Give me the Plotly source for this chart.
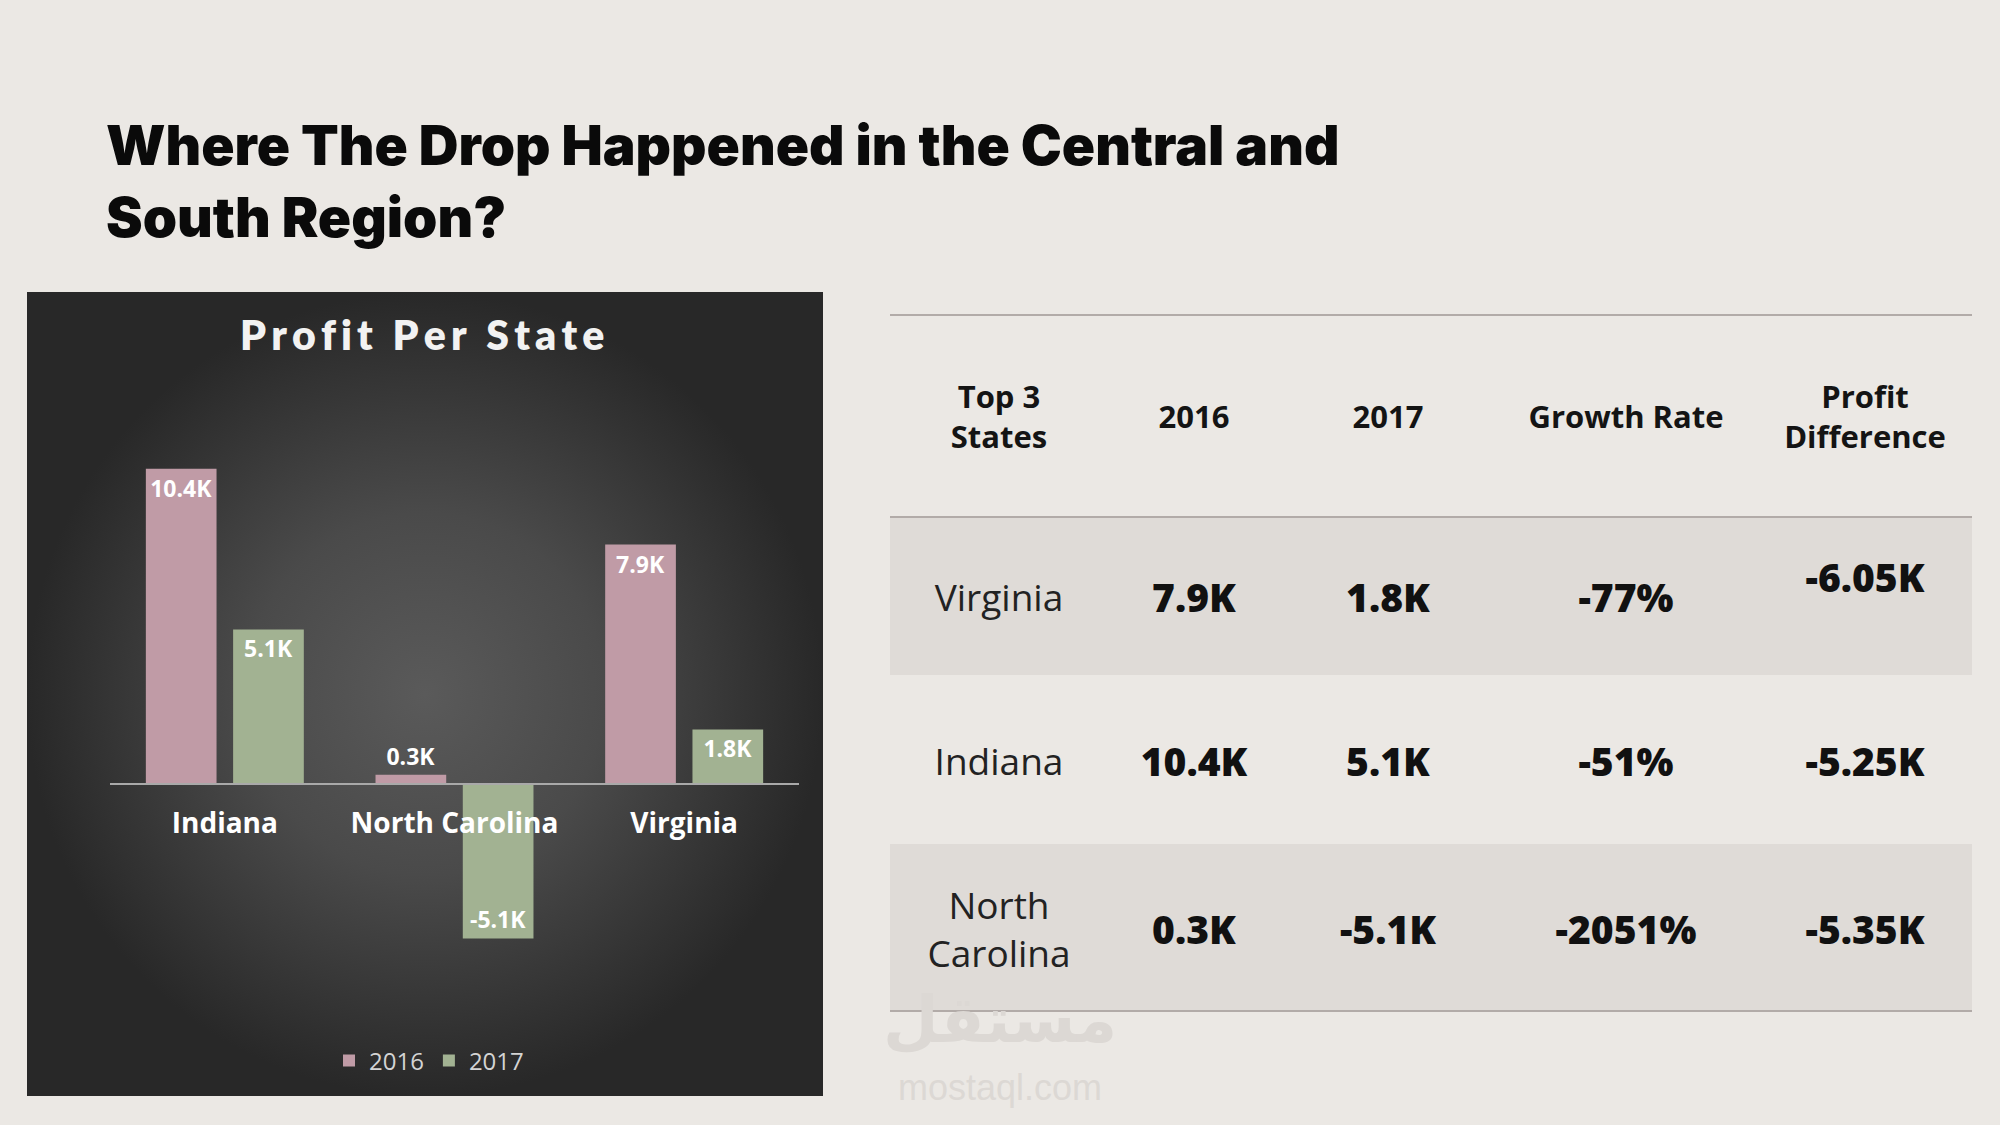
import plotly.graph_objects as go

# chart data (profit in thousands)
states = ["Indiana", "North Carolina", "Virginia"]
profit_2016 = [10.4, 0.3, 7.9]
profit_2017 = [5.1, -5.1, 1.8]

# table data
table_headers = ["Top 3<br>States", "2016", "2017", "Growth Rate", "Profit<br>Difference"]
table_states = ["Virginia", "Indiana", "North<br>Carolina"]
table_2016 = [7.9, 10.4, 0.3]
table_2017 = [1.8, 5.1, -5.1]
table_growth = [-77, -51, -2051]
table_diff = [-6.05, -5.25, -5.35]

PAGE = "#ebe8e4"
SHADE = "#dfdbd7"
PINK = "#c09ba6"
GREEN = "#a2b292"
W, H = 2000, 1125

def py(px):
    # pixel from top -> paper y
    return 1 - px / H

fig = go.Figure()

# dark panel behind the chart (radial gradient)
fig.add_trace(go.Scatter(
    x=[0, 1, 1, 0, 0], y=[0, 0, 1, 1, 0],
    mode="lines", line_width=0, fill="toself",
    fillgradient=dict(type="radial", colorscale=[[0, "#5a5a5a"], [0.45, "#4a4a4a"], [1, "#282828"]]),
    hoverinfo="skip", showlegend=False, xaxis="x", yaxis="y"))

# bars
label_font = dict(family="Open Sans", size=23, color="white", weight=700)
fig.add_trace(go.Bar(
    x=states, y=profit_2016, name="2016", marker_color=PINK, marker_line_width=0,
    texttemplate="%{y:.1f}K", textposition=["inside", "outside", "inside"],
    insidetextanchor="end", constraintext="none", cliponaxis=False,
    textfont=label_font, xaxis="x2", yaxis="y2"))
fig.add_trace(go.Bar(
    x=states, y=profit_2017, name="2017", marker_color=GREEN, marker_line_width=0,
    texttemplate="%{y:.1f}K", textposition="inside",
    insidetextanchor="end", constraintext="none", cliponaxis=False,
    textfont=label_font, xaxis="x2", yaxis="y2"))

# table text
col_x = [999, 1194, 1388, 1626, 1865]
header_y = 420
row_y = [602, 766, 934]

fig.add_trace(go.Scatter(
    x=col_x, y=[header_y] * len(col_x), text=table_headers, mode="text",
    textfont=dict(family="Open Sans", size=31, color="#141414", weight=700),
    hoverinfo="skip", showlegend=False, xaxis="x3", yaxis="y3"))
fig.add_trace(go.Scatter(
    x=[col_x[0]] * 3, y=row_y, text=table_states, mode="text",
    textfont=dict(family="Open Sans", size=37, color="#222222", weight=400),
    hoverinfo="skip", showlegend=False, xaxis="x3", yaxis="y3"))

value_cols = [
    [f"{v:.1f}K" for v in table_2016],
    [f"{v:.1f}K" for v in table_2017],
    [f"{v:d}%" for v in table_growth],
    [f"{v:.2f}K" for v in table_diff],
]
for i, col in enumerate(value_cols):
    pos = ["middle center"] * 3
    if i == 3:
        pos[0] = "top center"
    fig.add_trace(go.Scatter(
        x=[col_x[i + 1]] * 3, y=row_y, text=col, mode="text", textposition=pos,
        textfont=dict(family="Open Sans", size=39, color="#111111", weight=800),
        hoverinfo="skip", showlegend=False, xaxis="x3", yaxis="y3"))

# table shading and rules
shapes = [
    dict(type="rect", xref="x3", yref="y3", x0=890, x1=1972, y0=517, y1=675,
         fillcolor=SHADE, line_width=0, layer="below"),
    dict(type="rect", xref="x3", yref="y3", x0=890, x1=1972, y0=844, y1=1011,
         fillcolor=SHADE, line_width=0, layer="below"),
]
for yl in [315, 517, 1011]:
    shapes.append(dict(type="line", xref="x3", yref="y3", x0=890, x1=1972, y0=yl, y1=yl,
                       line=dict(color="#b2aba8", width=2), layer="below"))

chart_title = "\u2009".join("Profit Per State")

annotations = [
    dict(text="Where The Drop Happened in the Central and<br>South Region?",
         xref="paper", yref="paper", x=104 / W, y=py(181), xanchor="left", yanchor="middle",
         align="left", showarrow=False,
         font=dict(family="Inter", size=55, color="#0a0a0a", weight=900)),
    dict(text=chart_title, xref="paper", yref="paper", x=422 / W, y=py(334),
         xanchor="center", yanchor="middle", showarrow=False,
         font=dict(family="Lato", size=41, color="#f2f2f2", weight=800)),
    dict(text="مستقل", xref="paper", yref="paper", x=1000 / W, y=py(1020),
         xanchor="center", yanchor="middle", showarrow=False,
         font=dict(family="DejaVu Sans", size=64, color="#dcd8d4", weight=700)),
    dict(text="mostaql.com", xref="paper", yref="paper", x=1000 / W, y=py(1087),
         xanchor="center", yanchor="middle", showarrow=False,
         font=dict(family="Liberation Sans", size=36, color="#dcd8d4")),
]

fig.update_layout(
    width=W, height=H,
    margin=dict(l=0, r=0, t=0, b=0),
    paper_bgcolor=PAGE, plot_bgcolor="rgba(0,0,0,0)",
    barmode="group", bargap=0.24, bargroupgap=0.19,
    shapes=shapes, annotations=annotations,
    showlegend=True,
    legend=dict(orientation="h", x=429 / W, y=py(1061), xanchor="center", yanchor="middle",
                font=dict(family="Open Sans", size=24, color="#d4d4d4"), itemwidth=30,
                bgcolor="rgba(0,0,0,0)"),
    xaxis=dict(domain=[27 / W, 823 / W], range=[0, 1], visible=False, fixedrange=True),
    yaxis=dict(domain=[py(1096), py(292)], range=[0, 1], visible=False, fixedrange=True),
    xaxis2=dict(domain=[110 / W, 799 / W], anchor="free", position=py(784), type="category",
                showline=True, linecolor="#a9a9a9", linewidth=2, ticks="", showgrid=False,
                ticklabelstandoff=14,
                tickfont=dict(family="Open Sans", size=28, color="white", weight=700)),
    yaxis2=dict(domain=[py(1000), py(400)], range=[-7.13, 12.67], anchor="x2",
                visible=False, showgrid=False, zeroline=False),
    xaxis3=dict(domain=[0, 1], range=[0, W], visible=False, fixedrange=True),
    yaxis3=dict(domain=[0, 1], range=[H, 0], visible=False, fixedrange=True),
)

fig.write_html("out.html", config={"displayModeBar": False},
               post_script="document.body.style.margin='0px';")
